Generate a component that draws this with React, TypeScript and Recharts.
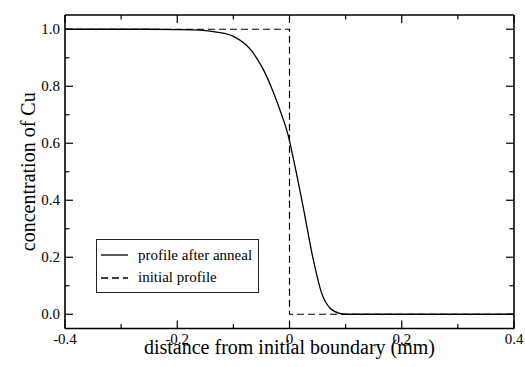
import { LineChart, Line, XAxis, YAxis, Legend } from "recharts";

// concentration profile
const annealX = [-0.4, -0.3, -0.25, -0.2, -0.16, -0.13, -0.1, -0.07, -0.047, -0.029, -0.014, -0.002, 0.007, 0.025, 0.042, 0.057, 0.072, 0.09, 0.1, 0.2, 0.3, 0.4];
const annealC = [1, 1, 1, 0.999, 0.997, 0.99, 0.975, 0.93, 0.86, 0.78, 0.7, 0.625, 0.545, 0.37, 0.195, 0.076, 0.022, 0.003, 0, 0, 0, 0];

const initialX = [-0.4, 0, 0, 0.4];
const initialC = [1, 1, 0, 0];

const xTicks = [-0.4, -0.3, -0.2, -0.1, 0, 0.1, 0.2, 0.3, 0.4];
const xLabelTicks = [-0.4, -0.2, 0, 0.2, 0.4];
const yTicks = [0, 0.1, 0.2, 0.3, 0.4, 0.5, 0.6, 0.7, 0.8, 0.9, 1.0];
const yLabelTicks = [0, 0.2, 0.4, 0.6, 0.8, 1.0];
const legendOrder = ["profile after anneal", "initial profile"];

const annealData = annealX.map((x, i) => ({ x, c: annealC[i] }));
const initialData = initialX.map((x, i) => ({ x, c: initialC[i] }));

const FONT = '"Liberation Serif", "Times New Roman", serif';
const MAJOR = 8;
const MINOR = 4.5;
const axisLine = { stroke: "#000", strokeWidth: 1.6 };
const textStyle = { fontFamily: FONT };

const BottomTick = (props: any) => {
  const { x, y, payload } = props;
  const major = xLabelTicks.includes(payload.value);
  return (
    <g>
      <line x1={x} x2={x} y1={y} y2={y - (major ? MAJOR : MINOR)} stroke="#000" strokeWidth={1.2} />
      {major && (
        <text x={x} y={y + 15} textAnchor="middle" fontSize={15} fill="#000" style={textStyle}>
          {String(payload.value)}
        </text>
      )}
    </g>
  );
};

const TopTick = (props: any) => {
  const { x, y, payload } = props;
  const major = xLabelTicks.includes(payload.value);
  return <line x1={x} x2={x} y1={y} y2={y + (major ? MAJOR : MINOR)} stroke="#000" strokeWidth={1.2} />;
};

const LeftTick = (props: any) => {
  const { x, y, payload } = props;
  const major = yLabelTicks.includes(payload.value);
  return (
    <g>
      <line x1={x} x2={x + (major ? MAJOR : MINOR)} y1={y} y2={y} stroke="#000" strokeWidth={1.2} />
      {major && (
        <text x={x - 5} y={y + 5} textAnchor="end" fontSize={15} fill="#000" style={textStyle}>
          {payload.value.toFixed(1)}
        </text>
      )}
    </g>
  );
};

const RightTick = (props: any) => {
  const { x, y, payload } = props;
  const major = yLabelTicks.includes(payload.value);
  return <line x1={x} x2={x - (major ? MAJOR : MINOR)} y1={y} y2={y} stroke="#000" strokeWidth={1.2} />;
};

const XTitle = (props: any) => {
  const vb = props.viewBox || { x: 65, y: 328.5, width: 449, height: 38.5 };
  return (
    <text x={vb.x + vb.width / 2} y={vb.y + 25} textAnchor="middle" fontSize={20} fill="#000" style={textStyle}>
      distance from initial boundary (mm)
    </text>
  );
};

const YTitle = (props: any) => {
  const vb = props.viewBox || { x: 0, y: 15, width: 65, height: 313.5 };
  const cy = vb.y + vb.height / 2;
  return (
    <text transform={`translate(35, ${cy}) rotate(-90)`} textAnchor="middle" fontSize={20} fill="#000" style={textStyle}>
      concentration of Cu
    </text>
  );
};

const LegendBox = (props: any) => {
  const payload = [...(props.payload || [])].sort(
    (a: any, b: any) => legendOrder.indexOf(a.value) - legendOrder.indexOf(b.value)
  );
  return (
    <div
      style={{
        width: 163,
        height: 54,
        border: "1px solid #222",
        background: "#fff",
        boxSizing: "border-box",
        padding: "4px 0 0 4px",
        fontFamily: FONT,
        fontSize: 15,
        color: "#000",
      }}
    >
      {payload.map((entry: any) => (
        <div key={entry.value} style={{ display: "flex", alignItems: "center", height: 22.5 }}>
          <svg width={28} height={10} style={{ marginRight: 9 }}>
            <line
              x1={0}
              x2={27}
              y1={5}
              y2={5}
              stroke="#000"
              strokeWidth={1.3}
              strokeDasharray={entry.payload?.strokeDasharray}
            />
          </svg>
          <span>{entry.value}</span>
        </div>
      ))}
    </div>
  );
};

export default function App() {
  return (
    <div style={{ position: "absolute", left: 0, top: 0, background: "#fff" }}>
      <LineChart
        width={525}
        height={367}
        margin={{ top: 14, right: 10, bottom: 0, left: 0 }}
        style={{ fontFamily: FONT }}
      >
        <XAxis
          dataKey="x"
          type="number"
          domain={[-0.4, 0.4]}
          ticks={xTicks}
          interval={0}
          allowDataOverflow
          height={38.5}
          tickSize={0}
          tickMargin={0}
          tickLine={false}
          tick={<BottomTick />}
          axisLine={axisLine}
          label={<XTitle />}
        />
        <XAxis
          xAxisId="top"
          orientation="top"
          dataKey="x"
          type="number"
          domain={[-0.4, 0.4]}
          ticks={xTicks}
          interval={0}
          allowDataOverflow
          height={1}
          tickSize={0}
          tickMargin={0}
          tickLine={false}
          tick={<TopTick />}
          axisLine={axisLine}
        />
        <YAxis
          type="number"
          domain={[-0.05, 1.05]}
          ticks={yTicks}
          interval={0}
          allowDataOverflow
          width={65}
          tickSize={0}
          tickMargin={0}
          tickLine={false}
          tick={<LeftTick />}
          axisLine={axisLine}
          label={<YTitle />}
        />
        <YAxis
          yAxisId="right"
          orientation="right"
          type="number"
          domain={[-0.05, 1.05]}
          ticks={yTicks}
          interval={0}
          allowDataOverflow
          width={1}
          tickSize={0}
          tickMargin={0}
          tickLine={false}
          tick={<RightTick />}
          axisLine={axisLine}
        />
        <Legend
          layout="vertical"
          align="center"
          verticalAlign="middle"
          wrapperStyle={{ left: 96, top: 239, width: 163, height: 54 }}
          content={<LegendBox />}
        />
        <Line
          data={annealData}
          dataKey="c"
          name="profile after anneal"
          type="monotone"
          stroke="#000"
          strokeWidth={1.3}
          dot={false}
          activeDot={false}
          isAnimationActive={false}
        />
        <Line
          data={initialData}
          dataKey="c"
          name="initial profile"
          xAxisId="top"
          yAxisId="right"
          type="linear"
          stroke="#000"
          strokeWidth={1.2}
          strokeDasharray="7 4"
          dot={false}
          activeDot={false}
          isAnimationActive={false}
        />
      </LineChart>
    </div>
  );
}
